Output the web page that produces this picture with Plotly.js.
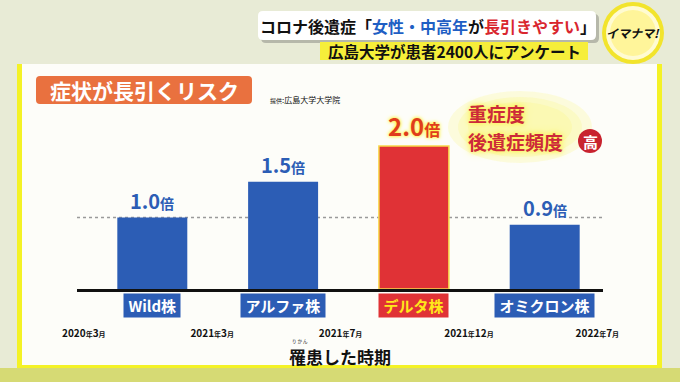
<!DOCTYPE html>
<html><head><meta charset="utf-8">
<script src="https://cdn.plot.ly/plotly-3.0.1.min.js"></script>
<style>html,body{margin:0;padding:0;background:#e8ebd6;}#chart{width:680px;height:382px;}</style>
</head><body><div id="chart"></div>
<script>
// ---- data ----
const variants = ['Wild株', 'アルファ株', 'デルタ株', 'オミクロン株'];
const riskRatio = [1.0, 1.5, 2.0, 0.9];
const highlight = [false, false, true, false];
const periodLabels = ['2020年3月', '2021年3月', '2021年7月', '2021年12月', '2022年7月'];
const baselineRatio = 1.0;

// ---- geometry helpers ----
const W = 680, H = 382, L = 77, R = 603, T = 130, B = 289;
const X = px => (px - L) / (R - L);
const Y = py => (B - py) / (B - T);
const FONT = '"Noto Sans CJK JP", "Noto Sans", sans-serif';
const BLUE = '#2c5db5', RED = '#e03236';

function rect(x0, y0, x1, y1, fill, layer, extra) {
  return Object.assign({type: 'rect', xref: 'paper', yref: 'paper', x0: X(x0), x1: X(x1), y0: Y(y1), y1: Y(y0),
    fillcolor: fill, line: {width: 0}, layer: layer || 'below'}, extra || {});
}
function circ(cx, cy, rx, ry, fill, layer) {
  return {type: 'circle', xref: 'paper', yref: 'paper', x0: X(cx - rx), x1: X(cx + rx), y0: Y(cy + ry), y1: Y(cy - ry),
    fillcolor: fill, line: {width: 0}, layer: layer || 'below'};
}
function rr(x0, y0, x1, y1, r, fill, layer) {
  const p = (x, y) => X(x).toFixed(5) + ',' + Y(y).toFixed(5);
  const path = `M${p(x0 + r, y0)} L${p(x1 - r, y0)} Q${p(x1, y0)} ${p(x1, y0 + r)} L${p(x1, y1 - r)} Q${p(x1, y1)} ${p(x1 - r, y1)} L${p(x0 + r, y1)} Q${p(x0, y1)} ${p(x0, y1 - r)} L${p(x0, y0 + r)} Q${p(x0, y0)} ${p(x0 + r, y0)} Z`;
  return {type: 'path', xref: 'paper', yref: 'paper', path, fillcolor: fill, line: {width: 0}, layer: layer || 'below'};
}
function ann(px, py, text, font, extra) {
  return Object.assign({xref: 'paper', yref: 'paper', x: X(px), y: Y(py), text, showarrow: false,
    xanchor: 'center', yanchor: 'middle', font: Object.assign({family: FONT, weight: 700, color: '#111'}, font)}, extra || {});
}

const small = s => s.replace(/(年|月)/g, '<span style="font-size:7px">$1</span>');

// ---- traces ----
const bars = {
  type: 'bar', x: variants, y: riskRatio, width: 0.535,
  marker: {color: highlight.map(h => h ? RED : BLUE),
           line: {color: highlight.map(h => h ? '#f7d84a' : 'rgba(0,0,0,0)'), width: highlight.map(h => h ? 1.5 : 0)}},
  hoverinfo: 'skip', showlegend: false
};
const periodTrace = {
  type: 'scatter', mode: 'markers', x: periodLabels.map((_, i) => i), y: periodLabels.map(() => 0),
  xaxis: 'x2', yaxis: 'y', marker: {opacity: 0}, hoverinfo: 'skip', showlegend: false
};

// ---- shapes ----
const glow = 'rgba(252,248,120,0.22)';
const shapes = [
  // panel
  rect(17, 64, 662, 368, '#f4f226'),
  rect(22, 64, 657, 365, '#fdfdf9'),
  rect(0, 368, 680, 382, '#d6da74'),
  // headline
  rr(261, 14, 599, 43, 5, 'rgba(90,90,90,0.35)'),
  rr(258, 11, 596, 40, 5, '#ffffff'),
  rect(320, 42, 588, 60, '#f6ee3a'),
  // logo
  circ(633, 33, 31, 31, '#f2e42c'),
  circ(633, 33, 27, 27, '#fffbd2'),
  circ(633, 33, 23, 23, '#fff59a'),
  // title box
  rr(36, 76, 252, 104, 4, '#e9713f'),
  // soft glow behind severity note
  circ(520, 127, 72, 36, glow),
  circ(520, 127, 62, 30, glow),
  circ(520, 127, 52, 25, glow),
  // high badge
  circ(590, 141, 12, 12, '#c8232f', 'above'),
  // reference line
  {type: 'line', xref: 'paper', yref: 'y', x0: 0, x1: 1, y0: baselineRatio, y1: baselineRatio,
   line: {color: '#9a9a9a', width: 1.5, dash: 'dot'}, layer: 'below'}
];

// ---- annotations ----
const annotations = [];
variants.forEach((v, i) => {
  const h = highlight[i];
  annotations.push({
    x: v, y: riskRatio[i], xref: 'x', yref: 'y', yanchor: 'bottom', xanchor: 'center', yshift: 2, showarrow: false,
    text: riskRatio[i].toFixed(1) + `<span style="font-size:${h ? 16 : 14}px">倍</span>`,
    font: {family: FONT, weight: 700, size: h ? 24 : 20, color: h ? '#e03c1c' : BLUE,
           shadow: h ? '0 0 4px #fff23a, 0 0 3px #fff23a' : 'none'},
    bgcolor: h ? 'rgba(0,0,0,0)' : '#fdfdf9', borderpad: 0
  });
  annotations.push({
    x: v, y: Y(305.5), xref: 'x', yref: 'paper', yanchor: 'middle', xanchor: 'center', showarrow: false,
    text: '\u00a0' + v + '\u00a0', bgcolor: h ? RED : BLUE, borderpad: 1,
    font: {family: FONT, weight: 700, size: 15, color: h ? '#ffe81a' : '#ffffff'}
  });
});
const redGlow = '0 0 4px #fff34a, 0 0 8px #fff34a';
annotations.push(
  ann(428, 26, 'コロナ後遺症「<span style="color:#1f5fc4">女性・中高年</span>が<span style="color:#d9262e">長引きやすい</span>」', {size: 16}),
  ann(454, 51, '広島大学が患者2400人にアンケート', {size: 15.5}),
  ann(633, 33, 'イマナマ!', {size: 12, style: 'italic'}),
  ann(144, 90, '症状が長引くリスク', {size: 21, color: '#ffffff'}),
  ann(268, 99, '<span style="font-size:6px">提供</span>:広島大学大学院', {size: 8, weight: 400}, {xanchor: 'left'}),
  ann(466, 113, '重症度', {size: 19, color: '#cc2a3a', shadow: redGlow}, {xanchor: 'left'}),
  ann(466, 141, '後遺症頻度', {size: 19, color: '#cc2a3a', shadow: redGlow}, {xanchor: 'left'}),
  ann(590, 141, '高', {size: 15, color: '#ffffff'}),
  ann(300, 341, 'り か ん', {size: 4.5, weight: 400}),
  ann(340, 356, '罹患した時期', {size: 17})
);

const layout = {
  width: W, height: H,
  margin: {l: L, r: W - R, t: T, b: H - B, pad: 0},
  paper_bgcolor: '#e8ebd6', plot_bgcolor: 'rgba(0,0,0,0)',
  showlegend: false, bargap: 0,
  xaxis: {type: 'category', range: [-0.5757, 3.4457], showline: true, linecolor: '#111', linewidth: 2.5,
          showticklabels: false, showgrid: false, zeroline: false, ticks: '', fixedrange: true},
  xaxis2: {type: 'linear', overlaying: 'x', anchor: 'y', side: 'bottom', range: [-0.053, 4.044],
           tickvals: periodLabels.map((_, i) => i), ticktext: periodLabels.map(small),
           tickfont: {family: FONT, size: 10, weight: 700, color: '#111'},
           ticklabelstandoff: 37, showline: false, showgrid: false, zeroline: false, ticks: '', fixedrange: true},
  yaxis: {range: [0, (B - T) / 71.5], visible: false, fixedrange: true},
  shapes, annotations,
  font: {family: FONT}
};

Plotly.newPlot('chart', [bars, periodTrace], layout, {staticPlot: true, displayModeBar: false});
</script>
</body></html>
